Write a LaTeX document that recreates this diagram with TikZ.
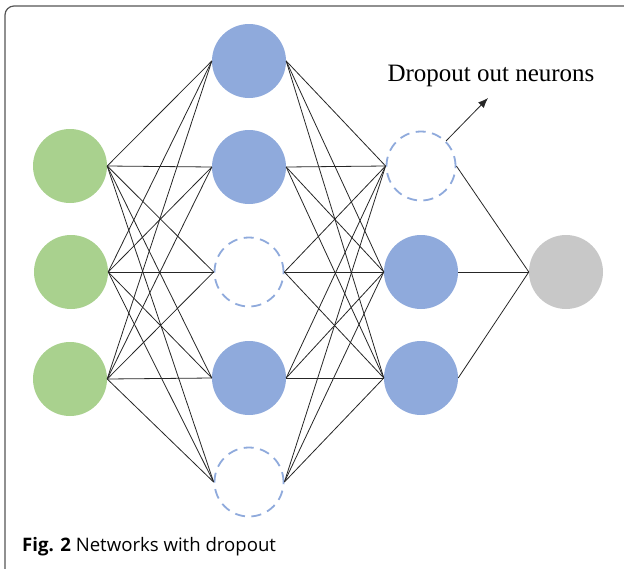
\documentclass[tikz,border=0pt]{standalone}
\usepackage{fontspec}
\setmainfont{Liberation Serif}
\setsansfont{Open Sans}
\usepackage{tikz}
\usetikzlibrary{arrows.meta}
\usetikzlibrary{positioning}

\definecolor{ingreen}{RGB}{169,209,142}
\definecolor{hidblue}{RGB}{143,170,220}
\definecolor{outgray}{RGB}{200,200,200}
\definecolor{framegray}{RGB}{85,85,85}

\tikzset{
  neuron/.style = {circle, minimum size=74pt, inner sep=0pt},
  inneuron/.style = {neuron, fill=ingreen},
  hidneuron/.style = {neuron, fill=hidblue},
  outneuron/.style = {neuron, fill=outgray},
  dropneuron/.style = {circle, minimum size=69pt, inner sep=0pt, draw=hidblue,
                       line width=1.8pt, dash pattern=on 10pt off 6.5pt},
  wire/.style = {line width=0.8pt, color=black!85}
}

\begin{document}
\begin{tikzpicture}[x=1pt, y=-1pt]
  \useasboundingbox (0,0) rectangle (624,568);
  \clip (0,0) rectangle (624,568);
  \draw[color=framegray, line width=1.2pt, rounded corners=9pt] (5,600) -- (5,6) -- (660,6);

  % input layer
  \node[inneuron] (i1) at (70,166) {};
  \node[inneuron] (i2) at (71,272) {};
  \node[inneuron] (i3) at (70,379) {};

  % first hidden layer
  \node[hidneuron] (h1) at (249,61) {};
  \node[hidneuron] (h2) at (249,167) {};
  \node[dropneuron] (h3) at (249,272) {};
  \node[hidneuron] (h4) at (249,378) {};
  \node[dropneuron] (h5) at (249,482) {};

  % second hidden layer
  \node[dropneuron] (g1) at (421,166) {};
  \node[hidneuron] (g2) at (421,272) {};
  \node[hidneuron] (g3) at (421,378) {};

  \node[outneuron] (out) at (566,272) {};

  \foreach \a in {i1,i2,i3}
    \foreach \b in {h1,h2,h3,h4,h5}
      \draw[wire] (\a.east) -- (\b.west);
  \foreach \a in {h1,h2,h3,h4,h5}
    \foreach \b in {g1,g2,g3}
      \draw[wire] (\a.east) -- (\b.west);
  \foreach \a in {g1,g2,g3}
    \draw[wire] (\a.east) -- (out.west);

  \node[font=\fontsize{25}{30}\selectfont] (lbl) at (491,76) {Dropout out neurons};
  \coordinate (tip) at (488,98);
  \draw[wire, -{Latex[length=10pt, width=8pt]}] (g1.45) -- (tip);

  \node[anchor=base west, inner sep=0pt, font=\sffamily\fontsize{18.6}{22}\selectfont] (cap) at (22,551)
    {\textbf{Fig. 2} Networks with dropout};
\end{tikzpicture}
\end{document}
